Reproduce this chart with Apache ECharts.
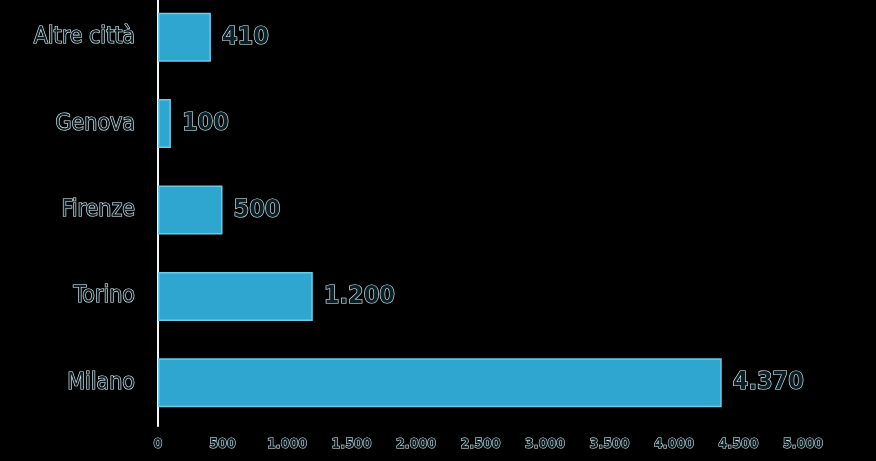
<!DOCTYPE html>
<html><head><meta charset="utf-8">
<script src="https://cdn.jsdelivr.net/npm/echarts@6/dist/echarts.min.js"></script>
<style>html,body{margin:0;padding:0;background:#000;}#c{width:876px;height:461px;}</style>
</head><body><div id="c"></div>
<script>
const categories = ['Milano', 'Torino', 'Firenze', 'Genova', 'Altre città'];
const values = [4370, 1200, 500, 100, 410];
const tickMax = 5000;
const tickStep = 500;

function fmt(v) {
  return String(v).replace(/\B(?=(\d{3})+(?!\d))/g, '.');
}

const FONT = '"DejaVu Sans Condensed", "DejaVu Sans", sans-serif';
const TXT = '#0b1f27';
const OUTLINE = '#e4f5f9';
const chart = echarts.init(document.getElementById('c'), null, {renderer: 'canvas'});
chart.setOption({
  backgroundColor: '#000000',
  animation: false,
  grid: {left: 158, right: 73, top: -6, height: 432, containLabel: false, outerBoundsMode: 'none'},
  xAxis: {
    type: 'value', min: 0, max: tickMax, interval: tickStep,
    axisLine: {show: false}, axisTick: {show: false}, splitLine: {show: false},
    axisLabel: {
      formatter: fmt, margin: 11,
      color: TXT, fontFamily: FONT, fontWeight: 'bold', fontSize: 14,
      textBorderColor: OUTLINE, textBorderWidth: 1
    }
  },
  yAxis: {
    type: 'category', data: categories,
    axisLine: {show: true, lineStyle: {color: '#f2f8fa', width: 2}},
    axisTick: {show: false},
    axisLabel: {
      margin: 23, color: TXT, fontFamily: FONT, fontSize: 23,
      textBorderColor: OUTLINE, textBorderWidth: 1.2
    }
  },
  series: [{
    type: 'bar', data: values, barWidth: 49,
    itemStyle: {color: '#2fa6cf', borderColor: '#6ccbe6', borderWidth: 1.5},
    label: {
      show: true, position: 'right', distance: 11,
      formatter: p => fmt(p.value),
      color: TXT, fontFamily: FONT, fontWeight: 'bold', fontSize: 25,
      textBorderColor: OUTLINE, textBorderWidth: 1.2
    }
  }]
});
</script></body></html>
